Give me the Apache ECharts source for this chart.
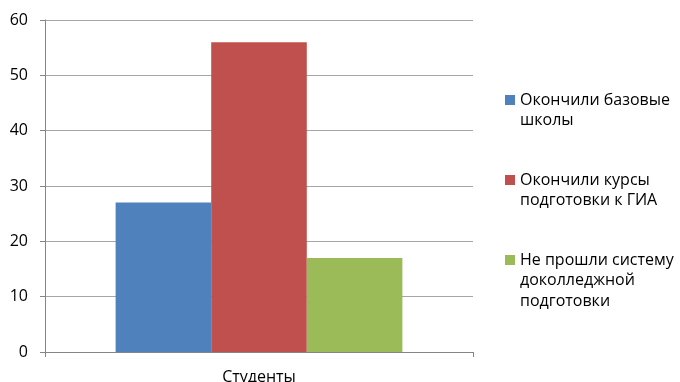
<!DOCTYPE html>
<html>
<head>
<meta charset="utf-8">
<script src="https://cdn.jsdelivr.net/npm/echarts@6/dist/echarts.min.js"></script>
<style>
  html, body { margin: 0; padding: 0; background: #fff; }
  #chart { width: 680px; height: 382px; }
</style>
</head>
<body>
<div id="chart"></div>
<script>
// Chart data
const categories = ['Студенты'];
const seriesNames = [
  'Окончили базовые школы',
  'Окончили курсы подготовки к ГИА',
  'Не прошли систему доколледжной подготовки'
];
const seriesValues = [[27], [56], [17]];
const seriesColors = ['#4F81BD', '#C0504D', '#9BBB59'];
// Legend labels broken into lines
const legendLines = [
  ['Окончили базовые', 'школы'],
  ['Окончили курсы', 'подготовки к ГИА'],
  ['Не прошли систему', 'доколледжной', 'подготовки']
];

const FONT = 'Open Sans';
const LINE_H = 20.7;
const legendIconCenters = [100, 180, 260];

const chart = echarts.init(document.getElementById('chart'), null, { renderer: 'canvas' });

// One legend per series so that each icon sits beside the first line of its label;
// blank leading lines keep the first text line on the icon's centre.
const legends = seriesNames.map((name, i) => {
  const lines = legendLines[i];
  const padded = new Array(lines.length - 1).fill('').concat(lines).join('\n');
  const total = (2 * lines.length - 1) * LINE_H;
  return {
    data: [name],
    orient: 'vertical',
    left: 505,
    top: legendIconCenters[i] - total / 2,
    padding: 0,
    itemWidth: 10,
    itemHeight: 10,
    icon: 'rect',
    selectedMode: false,
    formatter: () => padded,
    textStyle: {
      fontFamily: FONT,
      fontSize: 16,
      lineHeight: LINE_H,
      color: '#000'
    }
  };
});

chart.setOption({
  animation: false,
  backgroundColor: '#fff',
  grid: { left: 45, right: 207, top: 20, bottom: 30, outerBoundsMode: 'none', containLabel: false },
  legend: legends,
  xAxis: {
    type: 'category',
    data: categories,
    axisLine: { show: true, lineStyle: { color: '#868686', width: 1 } },
    axisTick: { show: true, length: 5, alignWithLabel: false, lineStyle: { color: '#868686' } },
    axisLabel: { fontFamily: FONT, fontSize: 16, color: '#000', margin: 17 },
    splitLine: { show: false }
  },
  yAxis: {
    type: 'value',
    min: 0,
    max: 60,
    interval: 10,
    axisLine: { show: true, lineStyle: { color: '#868686', width: 1 } },
    axisTick: { show: true, length: 5, inside: false, lineStyle: { color: '#868686' } },
    axisLabel: { fontFamily: FONT, fontSize: 16, color: '#000', margin: 17 },
    splitLine: { show: true, lineStyle: { color: '#A6A6A6', width: 1 } }
  },
  series: seriesNames.map((name, i) => ({
    name: name,
    type: 'bar',
    data: seriesValues[i],
    barGap: '0%',
    barCategoryGap: '33%',
    itemStyle: { color: seriesColors[i] }
  }))
});
</script>
</body>
</html>
